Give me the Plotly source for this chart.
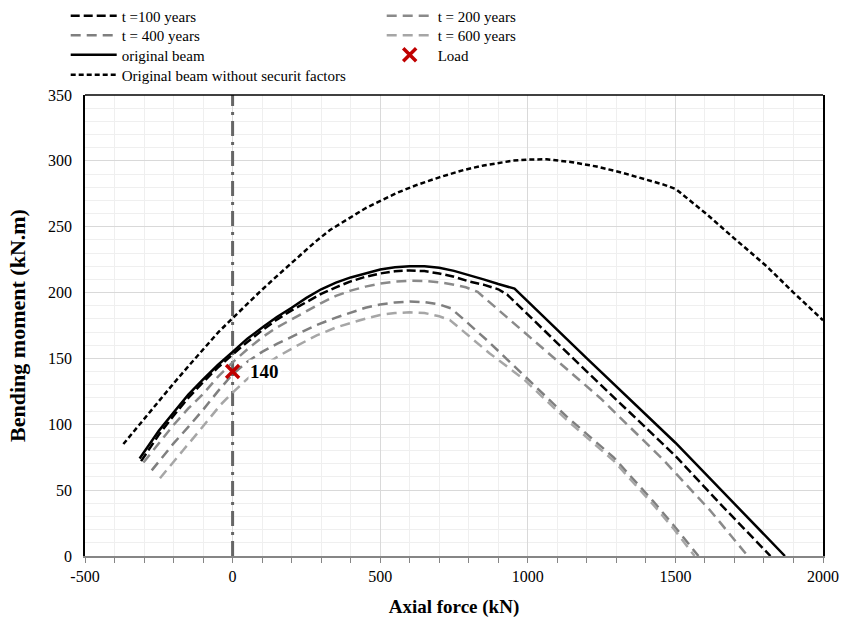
import plotly.graph_objects as go

# ---------------- data ----------------
t100_x = [-310, -250, -200, -150, -100, -50, 0, 50, 104, 150, 200, 250, 300, 350, 400, 450, 500, 550, 600,
          650, 700, 750, 800, 850, 900, 930, 1200, 1500, 1650, 1822]
t100_y = [72, 92, 106.5, 120, 132, 143, 153, 162.5, 172, 179.5, 186.5, 193, 199, 204, 208.5, 212, 214.5, 216.2, 216.8,
          216.3, 214.5, 212, 208.5, 206, 202.5, 198.5, 140, 76, 40, 0]

t200_x = [-302, -250, -200, -150, -100, -50, 0, 50, 100, 150, 217, 250, 300, 350, 400, 450, 500, 550, 600,
          650, 700, 750, 790, 830, 900, 1007, 1245, 1459, 1620, 1745]
t200_y = [71, 86, 99.5, 112, 123, 136, 147, 157, 166, 173.5, 182, 186, 192, 197.5, 201.5, 204.5, 206.8, 208.3, 209,
          208.8, 207.8, 206, 204, 200.5, 187, 166.5, 120, 73, 34, 0]

t400_x = [-274, -200, -150, -100, -50, 0, 50, 100, 150, 217, 280, 350, 400, 450, 500, 550, 600, 650, 700, 740,
          781, 861, 985, 1131, 1290, 1357, 1425, 1493, 1578]
t400_y = [65, 85.5, 98, 111, 125, 138, 147.5, 155, 161, 168, 175, 181, 185, 188.5, 191, 192.5, 193.2, 192.8, 191, 188,
          180, 164, 137.5, 106, 75, 58.5, 41.5, 23.5, 0]

t600_x = [-246, -200, -167, -120, -76, -40, 0, 50, 100, 150, 217, 285, 350, 400, 454, 500, 550, 600, 650, 700, 737,
          790, 870, 985, 1131, 1290, 1357, 1425, 1493, 1565]
t600_y = [59, 72, 80.5, 93, 105, 115, 124, 134.5, 143.5, 151, 159.5, 167.5, 173.5, 177, 180.5, 183, 184.5, 185, 184.5, 182, 179,
          169, 154, 134.5, 103.5, 72.5, 56, 39, 21, 0]

orig_x = [-315, -250, -200, -150, -100, -50, 0, 50, 104, 150, 200, 250, 300, 350, 400, 450, 500, 550, 600, 650,
          700, 750, 800, 850, 900, 955, 1200, 1500, 1871]
orig_y = [74, 95, 109, 122.5, 134, 145, 155, 165, 174, 181.5, 188.5, 196, 202.5, 207.5, 211.5, 214.8, 217.5, 219.2, 220, 220,
          218.8, 216.5, 213.5, 210, 206.5, 203, 150, 86, 0]

wo_x = [-370, -300, -250, -200, -150, -100, -48, 0, 50, 94, 150, 217, 280, 330, 400, 450, 499, 560, 624, 700, 782,
        850, 951, 1000, 1064, 1150, 1233, 1320, 1403, 1460, 1502, 1606, 1700, 1809, 1900, 2000]
wo_y = [85, 104, 118, 131, 144, 157, 170, 180.5, 191.5, 201, 212.5, 226, 238.5, 247.5, 257.5, 264, 269.5, 276, 281.7, 287.5, 293,
        296.5, 300.2, 301, 301.2, 299, 295.7, 291, 285.6, 282, 278.5, 259.5, 241, 220, 200, 179]

load_x = [0]
load_y = [140]

ref_x = [0, 0]
ref_y = [0, 350]

x_ticks = [-500, 0, 500, 1000, 1500, 2000]
x_ticklabels = ["-500", "0", "500", "1000", "1500", "2000"]
x_range = [-500, 2000]
y_range = [0, 350]

FONT = "Liberation Serif, Times New Roman, serif"

fig = go.Figure()

fig.add_trace(go.Scatter(x=ref_x, y=ref_y, mode="lines", showlegend=False,
                         line=dict(color="#666666", width=3, dash="15px,6px,3px,6px"), hoverinfo="skip"))

fig.add_trace(go.Scatter(x=t100_x, y=t100_y, mode="lines", name="t =100 years", legend="legend",
                         line=dict(color="#000000", width=2.5, dash="9px,4px")))
fig.add_trace(go.Scatter(x=t200_x, y=t200_y, mode="lines", name="t = 200 years", legend="legend",
                         line=dict(color="#8a8a8a", width=2.5, dash="10px,6px")))
fig.add_trace(go.Scatter(x=t400_x, y=t400_y, mode="lines", name="t = 400 years", legend="legend2",
                         line=dict(color="#7f7f7f", width=2.5, dash="10px,6px")))
fig.add_trace(go.Scatter(x=t600_x, y=t600_y, mode="lines", name="t = 600 years", legend="legend2",
                         line=dict(color="#a6a6a6", width=2.5, dash="10px,6px")))
fig.add_trace(go.Scatter(x=orig_x, y=orig_y, mode="lines", name="original beam", legend="legend3",
                         line=dict(color="#000000", width=2.5)))
fig.add_trace(go.Scatter(x=load_x, y=load_y, mode="markers", name="Load", legend="legend3",
                         marker=dict(symbol="x-thin", size=13, color="#c00000",
                                     line=dict(color="#c00000", width=3.5))))
fig.add_trace(go.Scatter(x=wo_x, y=wo_y, mode="lines", name="Original beam without securit factors",
                         legend="legend4", line=dict(color="#000000", width=2.5, dash="5px,3px")))

fig.add_annotation(x=load_x[0], y=load_y[0], text="<b>" + str(load_y[0]) + "</b>", showarrow=False,
                   xanchor="left", xshift=15, bgcolor="#ffffff",
                   font=dict(family=FONT, size=19, color="#000000"))

# top frame line
fig.add_shape(type="line", xref="paper", yref="paper", x0=0, x1=1, y0=1, y1=1,
              line=dict(color="#000000", width=1.5), layer="above")

W = 851
H = 621
LX = 65.7 / W


def leg(px_center):
    return dict(orientation="h", xref="container", x=LX, xanchor="left", yref="container", y=1 - px_center / H,
                yanchor="middle", entrywidth=255, entrywidthmode="pixels", itemwidth=46,
                font=dict(family=FONT, size=15, color="#000000"), bgcolor="rgba(0,0,0,0)",
                traceorder="normal")


fig.update_layout(
    width=W, height=H,
    margin=dict(l=85, r=28, t=95, b=65, autoexpand=False),
    paper_bgcolor="white", plot_bgcolor="white",
    font=dict(family=FONT, size=16, color="#000000"),
    legend=leg(16), legend2=leg(35.5), legend3=leg(55), legend4=leg(75),
    xaxis=dict(range=x_range, tickvals=x_ticks, ticktext=x_ticklabels, showgrid=True,
               gridcolor="#d9d9d9", gridwidth=1,
               zeroline=False, showline=True, linecolor="#868686", linewidth=2,
               ticks="outside", ticklen=5, tickcolor="#868686", tickwidth=1,
               minor=dict(dtick=100, tick0=0, showgrid=True, gridcolor="#efefef", gridwidth=1,
                          ticks="outside", ticklen=5, tickcolor="#868686"),
               tickfont=dict(family=FONT, size=16),
               title=dict(text="<b>Axial force (kN)</b>", font=dict(family=FONT, size=19), standoff=15)),
    yaxis=dict(range=y_range, dtick=50, showgrid=True, gridcolor="#d9d9d9", gridwidth=1,
               zeroline=False, showline=True, linecolor="#000000", linewidth=1.5, mirror=True,
               ticks="", ticklabelstandoff=8,
               minor=dict(dtick=10, showgrid=True, gridcolor="#efefef", gridwidth=1),
               tickfont=dict(family=FONT, size=16),
               title=dict(text="<b>Bending moment (kN.m)</b>", font=dict(family=FONT, size=22), standoff=16)),
)

fig.write_html("out.html")
